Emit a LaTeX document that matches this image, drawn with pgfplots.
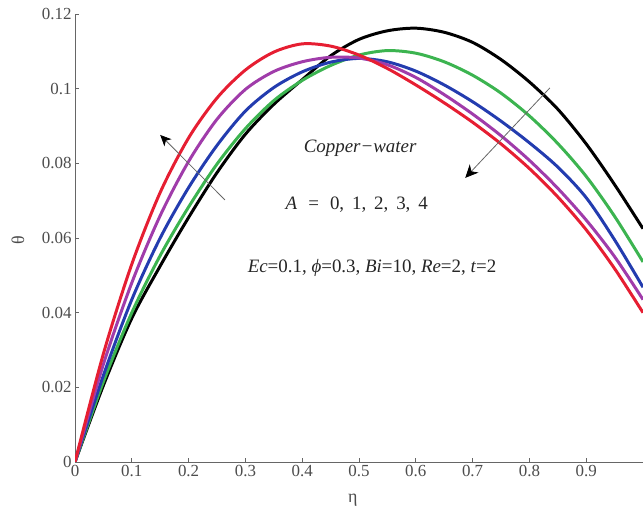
\documentclass[border=0pt]{standalone}
\usepackage{pgfplots}
\pgfplotsset{compat=1.18}
\usetikzlibrary{arrows.meta}
\usepackage{fontspec}
\setmainfont{Liberation Serif}
\definecolor{cgreen}{RGB}{60,180,80}
\definecolor{cblue}{RGB}{35,60,175}
\definecolor{cmag}{RGB}{160,60,170}
\definecolor{cred}{RGB}{230,30,50}
\begin{document}
\begin{tikzpicture}[x=1bp,y=1bp]
\begin{axis}[
  scale only axis, width=568bp, height=448bp,
  xmin=0, xmax=1, ymin=0, ymax=0.12,
  axis lines=left, axis line style={-, gray!80!black, line width=1pt},
  tick align=inside, tick pos=left,
  major tick length=4bp,
  tick style={gray!80!black, line width=0.8pt},
  xtick={0,0.1,...,0.9},
  ytick={0,0.02,...,0.12},
  /pgf/number format/assume math mode=true,
  xticklabel style={/pgf/number format/fixed, font=\fontsize{17}{17}\selectfont, text=gray!60!black},
  yticklabel style={/pgf/number format/fixed, /pgf/number format/precision=2, font=\fontsize{17}{17}\selectfont, text=gray!60!black},
  xlabel={η}, ylabel={θ},
  xlabel style={font=\fontsize{18}{18}\selectfont, text=gray!60!black, at={(axis description cs:0.489,0)}, anchor=center, yshift=-38bp},
  ylabel style={font=\fontsize{18}{18}\selectfont, text=gray!60!black, at={(axis description cs:0,0.495)}, anchor=center, yshift=57bp},
  clip=true,
  every axis plot/.append style={line width=3pt, smooth},
]
\addplot[black] coordinates {(0,0)(0.05,0.0205)(0.1,0.0385)(0.15,0.0525)(0.2,0.0655)(0.25,0.0775)(0.3,0.0878)(0.35,0.0958)(0.4,0.1024)(0.45,0.1088)(0.5,0.1132)(0.55,0.1155)(0.6,0.1162)(0.65,0.1151)(0.7,0.1124)(0.75,0.1078)(0.8,0.1018)(0.85,0.0945)(0.9,0.0852)(0.95,0.0743)(1.0,0.0625)};
\addplot[cgreen] coordinates {(0,0)(0.05,0.0215)(0.1,0.0400)(0.15,0.0553)(0.2,0.0683)(0.25,0.0798)(0.3,0.0893)(0.35,0.0968)(0.4,0.1022)(0.45,0.1062)(0.5,0.1090)(0.55,0.1102)(0.6,0.1095)(0.65,0.1072)(0.7,0.1036)(0.75,0.0988)(0.8,0.0927)(0.85,0.0853)(0.9,0.0765)(0.95,0.0658)(1.0,0.0536)};
\addplot[cblue] coordinates {(0,0)(0.05,0.0232)(0.1,0.0435)(0.15,0.0600)(0.2,0.0735)(0.25,0.0848)(0.3,0.0940)(0.35,0.1003)(0.4,0.1045)(0.45,0.1071)(0.5,0.1081)(0.55,0.1072)(0.6,0.1047)(0.65,0.1010)(0.7,0.0965)(0.75,0.0913)(0.8,0.0855)(0.85,0.0790)(0.9,0.0708)(0.95,0.0595)(1.0,0.0468)};
\addplot[cmag] coordinates {(0,0)(0.05,0.0262)(0.1,0.0480)(0.15,0.0660)(0.2,0.0805)(0.25,0.0918)(0.3,0.0998)(0.35,0.1046)(0.4,0.1072)(0.45,0.1084)(0.5,0.1082)(0.55,0.1064)(0.6,0.1030)(0.65,0.0984)(0.7,0.0932)(0.75,0.0874)(0.8,0.0808)(0.85,0.0733)(0.9,0.0648)(0.95,0.0550)(1.0,0.0435)};
\addplot[cred] coordinates {(0,0)(0.05,0.0290)(0.1,0.0530)(0.15,0.0722)(0.2,0.0868)(0.25,0.0975)(0.3,0.1050)(0.35,0.1098)(0.4,0.1120)(0.45,0.1114)(0.5,0.1090)(0.55,0.1054)(0.6,0.1010)(0.65,0.0962)(0.7,0.0910)(0.75,0.0852)(0.8,0.0786)(0.85,0.0710)(0.9,0.0622)(0.95,0.0518)(1.0,0.0400)};
\draw[gray!80!black, line width=0.8pt, -{Stealth[black,length=11bp,width=10bp,inset=3bp]}] (axis cs:0.264,0.0702) -- (axis cs:0.150,0.0876);
\draw[gray!80!black, line width=0.8pt, -{Stealth[black,length=13bp,width=12bp,inset=4bp]}] (axis cs:0.836,0.1002) -- (axis cs:0.687,0.0761);
\node[font=\fontsize{19}{19}\selectfont\itshape, text=black!85] at (axis cs:0.502,0.0841) {Copper−water};
\node[font=\fontsize{19}{19}\selectfont, text=black!85] at (axis cs:0.496,0.0688) {\textit{A}\,\, =\,\, 0,\, 1,\, 2,\, 3,\, 4};
\node[font=\fontsize{19}{19}\selectfont, text=black!85] at (axis cs:0.523,0.052) {\textit{Ec}=0.1, \textit{ϕ}=0.3, \textit{Bi}=10, \textit{Re}=2, \textit{t}=2};
\end{axis}
\pgfresetboundingbox
\path ([xshift=-75bp,yshift=-51bp]current axis.south west) rectangle ([yshift=14bp]current axis.north east);
\end{tikzpicture}
\end{document}
